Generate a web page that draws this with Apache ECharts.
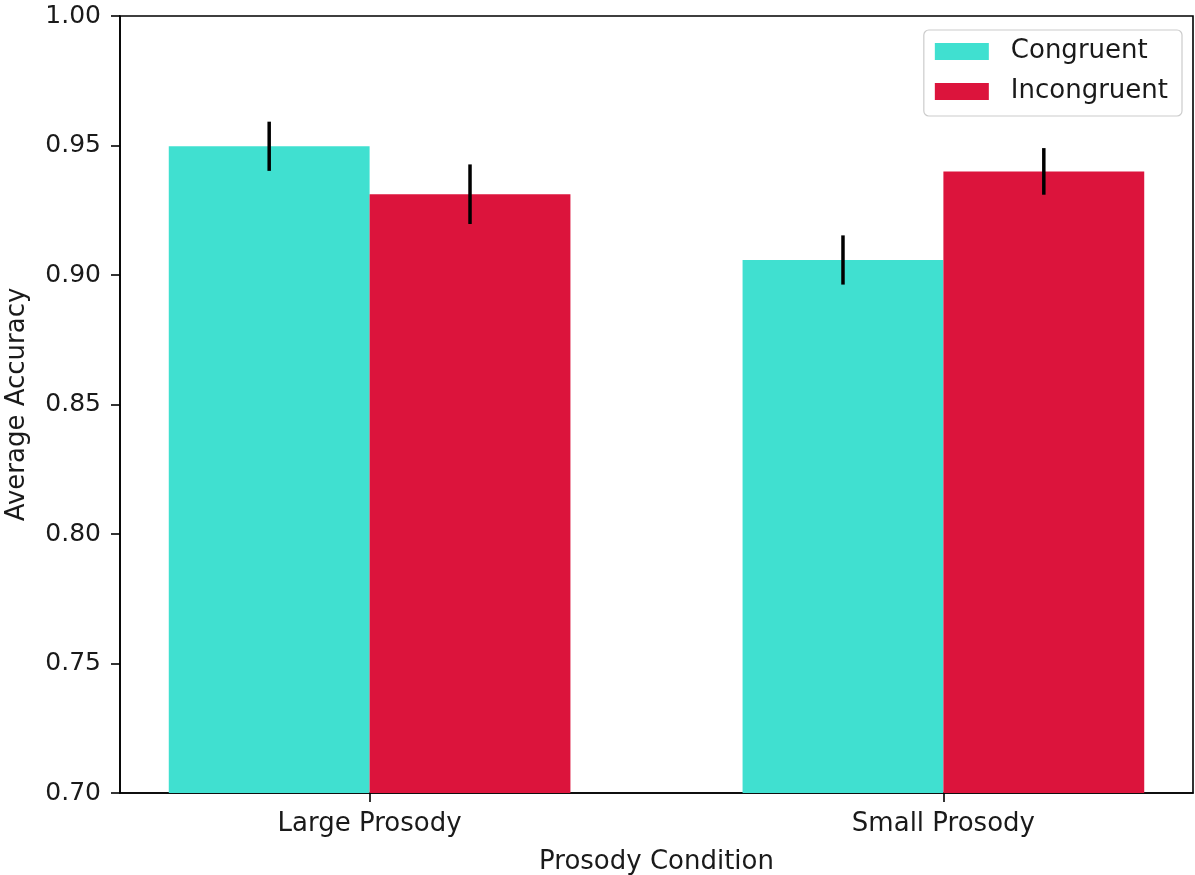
<!DOCTYPE html>
<html>
<head>
<meta charset="utf-8">
<script src="https://cdn.jsdelivr.net/npm/echarts@6/dist/echarts.min.js"></script>
<style>
  html, body { margin: 0; padding: 0; background: #fff; }
  #chart { width: 1195px; height: 875px; }
</style>
</head>
<body>
<div id="chart"></div>
<script>
// Group labels along the x axis
const groups = ['Large Prosody', 'Small Prosody'];
// Mean accuracy per group
const congruent = [0.9497, 0.9058];
const incongruent = [0.9312, 0.9400];
// Error bar half-lengths
const congruentErr = [0.0095, 0.0095];
const incongruentErr = [0.0115, 0.0090];
// Y axis tick values
const yTicks = [0.70, 0.75, 0.80, 0.85, 0.90, 0.95, 1.00];

const Y_MIN = 0.70, Y_MAX = 1.00;
const BAR_W = 0.35;            // bar width in x-axis units
const FONT = 'DejaVu Sans';
const TEXT = '#1a1a1a';
const FS = 26;

function seriesData(values, errs, offset) {
  return values.map((v, i) => [i + offset, v, errs[i]]);
}

function renderBar(params, api) {
  const x = api.value(0), v = api.value(1), e = api.value(2);
  const p0 = api.coord([x - BAR_W / 2, Y_MIN]);
  const p1 = api.coord([x + BAR_W / 2, v]);
  const eTop = api.coord([x, v + e]);
  const eBot = api.coord([x, v - e]);
  return {
    type: 'group',
    children: [
      {
        type: 'rect',
        shape: { x: p0[0], y: p1[1], width: p1[0] - p0[0], height: p0[1] - p1[1] },
        style: { fill: api.visual('color') }
      },
      {
        type: 'line',
        shape: { x1: eTop[0], y1: eTop[1], x2: eBot[0], y2: eBot[1] },
        style: { stroke: '#000', lineWidth: 3.5 }
      }
    ]
  };
}

const chart = echarts.init(document.getElementById('chart'));
chart.setOption({
  animation: false,
  backgroundColor: '#fff',
  textStyle: { fontFamily: FONT },
  grid: {
    left: 120, right: 2, top: 16, bottom: 82,
    containLabel: false,
    outerBoundsMode: 'none',
    show: true, borderColor: '#000', borderWidth: 1.6,
    backgroundColor: 'transparent'
  },
  legend: {
    orient: 'vertical',
    right: 13, top: 30,
    icon: 'rect',
    itemWidth: 54, itemHeight: 17, itemGap: 11,
    padding: [7, 14, 10, 11],
    backgroundColor: '#fff',
    borderColor: '#cccccc', borderWidth: 1.2, borderRadius: 5,
    textStyle: { fontFamily: FONT, fontSize: FS, color: TEXT, lineHeight: 29, padding: [0, 0, 0, 17] },
    data: ['Congruent', 'Incongruent']
  },
  xAxis: {
    type: 'value',
    min: -0.435, max: 1.435,
    name: 'Prosody Condition',
    nameLocation: 'middle', nameGap: 56,
    nameTextStyle: { fontFamily: FONT, fontSize: FS, color: TEXT },
    axisLine: { show: true, onZero: false, lineStyle: { color: '#000', width: 1.6 } },
    axisTick: { show: true, length: 9, lineStyle: { color: '#000', width: 1.6 }, customValues: [0, 1] },
    axisLabel: {
      customValues: [0, 1],
      margin: 18,
      fontFamily: FONT, fontSize: FS, color: TEXT,
      formatter: v => groups[Math.round(v)] || ''
    },
    splitLine: { show: false }
  },
  yAxis: {
    type: 'value',
    min: Y_MIN, max: Y_MAX, interval: 0.05,
    name: 'Average Accuracy',
    nameLocation: 'middle', nameGap: 90,
    nameTextStyle: { fontFamily: FONT, fontSize: FS, color: TEXT },
    axisLine: { show: true, onZero: false, lineStyle: { color: '#000', width: 1.6 } },
    axisTick: { show: true, length: 9, lineStyle: { color: '#000', width: 1.6 } },
    axisLabel: {
      margin: 19,
      fontFamily: FONT, fontSize: FS - 1, color: TEXT,
      formatter: v => {
        const t = yTicks.find(k => Math.abs(k - v) < 1e-9);
        return (t !== undefined ? t : v).toFixed(2);
      }
    },
    splitLine: { show: false }
  },
  series: [
    {
      name: 'Congruent',
      type: 'custom',
      itemStyle: { color: '#40E0D0' },
      encode: { x: 0, y: 1 },
      renderItem: renderBar,
      data: seriesData(congruent, congruentErr, -BAR_W / 2)
    },
    {
      name: 'Incongruent',
      type: 'custom',
      itemStyle: { color: '#DC143C' },
      encode: { x: 0, y: 1 },
      renderItem: renderBar,
      data: seriesData(incongruent, incongruentErr, BAR_W / 2)
    }
  ]
});
</script>
</body>
</html>
